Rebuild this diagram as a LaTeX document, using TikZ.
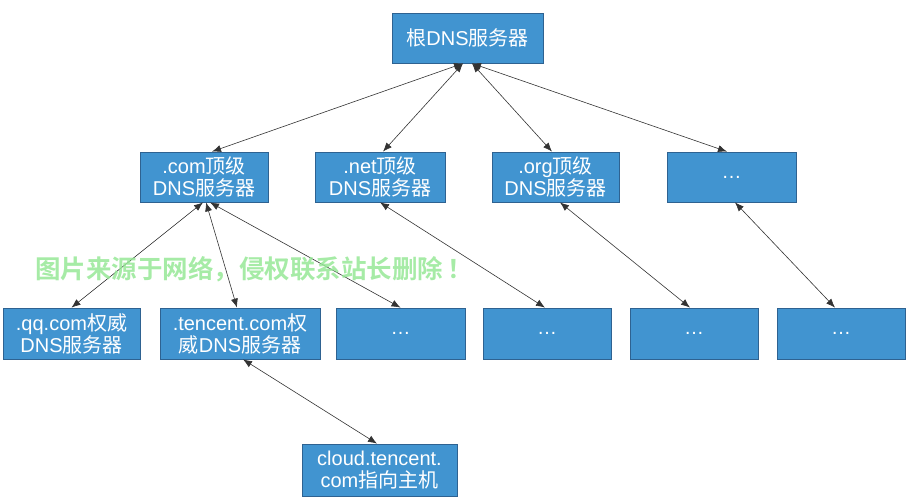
\documentclass[tikz,border=0pt]{standalone}
\usepackage{fontspec}
\setmainfont{Liberation Sans}
\newfontfamily\cjk{Noto Sans CJK SC}
\newfontfamily\cjkbold{Noto Sans CJK SC Bold}
\usetikzlibrary{arrows.meta}
\definecolor{boxfill}{RGB}{65,148,208}
\definecolor{boxline}{RGB}{46,98,145}
\definecolor{wmgreen}{RGB}{150,232,150}
\newcommand{\zh}[1]{{\cjk #1}}
\tikzset{
  srv/.style={draw=boxline, line width=0.8pt, fill=boxfill, text=white, inner sep=0pt,
    minimum height=50pt, align=center, font=\fontsize{20}{22}\selectfont},
  link/.style={draw=black!80, line width=0.6pt,
    {Latex[length=9pt,width=7pt]}-{Latex[length=9pt,width=7pt]}}
}
\begin{document}
\begin{tikzpicture}[x=1pt,y=-1pt]
\useasboundingbox (0,0) rectangle (906,500);
% level 0
\node[srv, minimum width=151pt] (root) at (467.5,38) {\zh{根}DNS\zh{服务器}};
% level 1
\node[srv, minimum width=128pt] (com) at (204,177) {.com\zh{顶级}\\DNS\zh{服务器}};
\node[srv, minimum width=130pt] (net) at (380,177) {.net\zh{顶级}\\DNS\zh{服务器}};
\node[srv, minimum width=127pt] (org) at (555.5,177) {.org\zh{顶级}\\DNS\zh{服务器}};
\node[srv, minimum width=129pt] (tld) at (731.5,177) {…};
% level 2
\node[srv, minimum width=137pt, minimum height=51pt] (qq) at (71.5,333.5) {.qq.com\zh{权威}\\DNS\zh{服务器}};
\node[srv, minimum width=160pt, minimum height=51pt] (tencent) at (240,333.5) {.tencent.com\zh{权}\\\zh{威}DNS\zh{服务器}};
\node[srv, minimum width=129pt, minimum height=51pt] (da) at (400.5,333.5) {…};
\node[srv, minimum width=128pt, minimum height=51pt] (db) at (547,333.5) {…};
\node[srv, minimum width=128pt, minimum height=51pt] (dc) at (694,333.5) {…};
\node[srv, minimum width=128pt, minimum height=51pt] (dd) at (841,333.5) {…};
% level 3
\node[srv, minimum width=155pt, minimum height=52pt] (cloud) at (379.5,470) {cloud.tencent.\\com\zh{指向主机}};
% connectors
\draw[link] ([xshift=-4.5pt]root.south) -- ([xshift=8pt]com.north);
\draw[link] ([xshift=-4.5pt]root.south) -- ([xshift=3pt]net.north);
\draw[link] ([xshift=4.5pt]root.south) -- ([xshift=-3.5pt]org.north);
\draw[link] ([xshift=4.5pt]root.south) -- ([xshift=-4.5pt]tld.north);
\draw[link] ([xshift=-1pt]com.south) -- ([xshift=0pt]qq.north);
\draw[link] ([xshift=2pt]com.south) -- ([xshift=-3pt]tencent.north);
\draw[link] ([xshift=6pt]com.south) -- ([xshift=0pt]da.north);
\draw[link] ([xshift=0pt]net.south) -- ([xshift=-2pt]db.north);
\draw[link] ([xshift=4.5pt]org.south) -- ([xshift=-4pt]dc.north);
\draw[link] ([xshift=3.5pt]tld.south) -- ([xshift=-6pt]dd.north);
\draw[link] ([xshift=3pt]tencent.south) -- ([xshift=-2.5pt]cloud.north);
% watermark
\node[text=wmgreen, opacity=0.85, font=\cjkbold\fontsize{25.5}{26}\selectfont, inner sep=0pt, anchor=west] (wm) at (35,269) {图片来源于网络，侵权联系站长删除\,！};
\end{tikzpicture}
\end{document}
